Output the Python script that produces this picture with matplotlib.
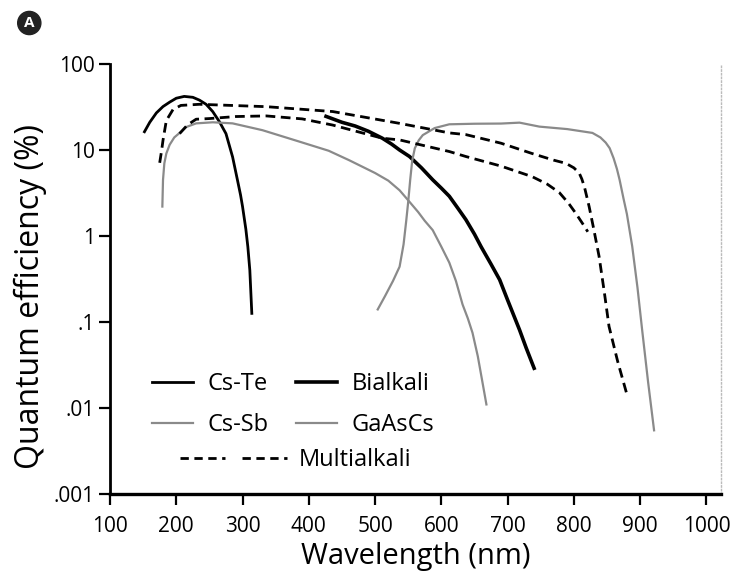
#!/usr/bin/env python3
"""Quantum efficiency of common photocathode materials."""

import matplotlib
matplotlib.use("Agg")
import matplotlib.pyplot as plt
from matplotlib.lines import Line2D
from matplotlib.legend_handler import HandlerTuple

plt.rcParams["font.family"] = ["Open Sans", "DejaVu Sans"]

# values (wavelength nm, QE %)
cs_te_wl = [152, 160, 170, 180, 190, 200, 212, 225, 235, 245, 255, 265, 275, 285, 292, 297, 300, 305, 308, 311, 314]
cs_te_qe = [16.3, 21, 27, 32, 36, 40, 42, 41, 38, 34, 28, 21.4, 15.5, 8.3, 4.6, 3.0, 2.2, 1.2, 0.75, 0.4, 0.126]

cs_sb_wl = [179, 180, 182, 185, 190, 197, 205, 215, 230, 255, 285, 330, 386, 430, 461, 500, 520, 537, 550, 565, 575, 587, 600, 612, 622, 632, 640, 647, 655, 662, 668]
cs_sb_qe = [2.2, 4.5, 7.0, 9.1, 11.5, 14, 15.8, 18.5, 20.4, 21, 20.4, 17, 12.5, 9.8, 7.6, 5.4, 4.4, 3.4, 2.6, 1.9, 1.5, 1.17, 0.75, 0.49, 0.3, 0.16, 0.11, 0.075, 0.04, 0.02, 0.011]

bialkali_wl = [426, 450, 470, 490, 511, 525, 537, 552, 570, 587, 600, 612, 625, 637, 650, 660, 675, 688, 700, 718, 728, 740]
bialkali_qe = [24.6, 21, 19, 16.5, 13.7, 11.7, 10, 8.4, 6.2, 4.5, 3.6, 2.9, 2.1, 1.55, 1.05, 0.75, 0.47, 0.31, 0.18, 0.081, 0.05, 0.029]

gaascs_wl = [504, 515, 527, 537, 543, 547, 550, 553, 556, 560, 566, 572, 590, 612, 650, 690, 718, 748, 790, 828, 840, 848, 854, 860, 865, 869, 875, 880, 888, 896, 903, 912, 921]
gaascs_qe = [0.14, 0.2, 0.3, 0.44, 0.8, 1.5, 2.5, 4.5, 7.5, 10.5, 13, 14.9, 18, 19.9, 20.2, 20.3, 20.8, 18.7, 17.5, 15.8, 14, 12.2, 10.5, 8, 6, 4.5, 2.7, 1.8, 0.76, 0.25, 0.081, 0.02, 0.0055]

multi_hi_wl = [175, 178, 180, 185, 195, 207, 235, 336, 436, 537, 612, 637, 690, 737, 770, 788, 800, 808, 812, 816, 823, 830, 838, 846, 853, 866, 881]
multi_hi_qe = [7.1, 10, 13, 22, 29.5, 33, 34, 31.9, 28, 20.4, 15.8, 15.1, 12, 9.1, 7.6, 7.0, 6.2, 5.4, 4.6, 3.7, 2.2, 1.2, 0.58, 0.22, 0.089, 0.035, 0.0135]

multi_lo_wl = [205, 217, 230, 250, 290, 336, 390, 436, 511, 537, 612, 637, 690, 737, 760, 778, 792, 803, 813, 821]
multi_lo_qe = [15.5, 19.6, 22.8, 23.2, 24.5, 24.9, 23, 19.5, 13.7, 13.1, 9.6, 8.4, 6.5, 4.9, 4.0, 3.2, 2.4, 1.83, 1.4, 1.12]

x_ticks = [100, 200, 300, 400, 500, 600, 700, 800, 900, 1000]
y_ticks = [0.001, 0.01, 0.1, 1, 10, 100]
y_tick_labels = [".001", ".01", ".1", "1", "10", "100"]

GRAY = "#8a8a8a"

fig = plt.figure(figsize=(7.32, 5.75), dpi=100)
ax = fig.add_axes([110 / 732, 1 - 494 / 575, 611 / 732, 430 / 575])

dash = (3.5, 2.0)
h_te, = ax.plot(cs_te_wl, cs_te_qe, color="black", lw=2.0, label="Cs-Te")
h_sb, = ax.plot(cs_sb_wl, cs_sb_qe, color=GRAY, lw=1.6, label="Cs-Sb")
h_bi, = ax.plot(bialkali_wl, bialkali_qe, color="black", lw=2.6, label="Bialkali")
h_ga, = ax.plot(gaascs_wl, gaascs_qe, color=GRAY, lw=1.6, label="GaAsCs")
ax.plot(multi_hi_wl, multi_hi_qe, color="black", lw=2.0, ls=(0, dash))
ax.plot(multi_lo_wl, multi_lo_qe, color="black", lw=2.0, ls=(0, dash))

ax.set_yscale("log")
ax.set_xlim(100, 1022)
ax.set_ylim(0.001, 100)
ax.set_xticks(x_ticks)
ax.set_yticks(y_ticks)
ax.set_yticklabels(y_tick_labels)
ax.minorticks_off()
ax.tick_params(direction="out", length=8, width=1.6, labelsize=15)
ax.tick_params(axis="x", pad=8)
ax.tick_params(axis="y", pad=3)

ax.spines["top"].set_visible(False)
ax.spines["left"].set_linewidth(2.0)
ax.spines["bottom"].set_linewidth(2.4)
ax.spines["right"].set_color("#bbbbbb")
ax.spines["right"].set_linewidth(1.0)
ax.spines["right"].set_linestyle(":")

ax.set_xlabel("Wavelength (nm)", fontsize=21)
ax.set_ylabel("Quantum efficiency (%)", fontsize=23)
ax.xaxis.set_label_coords(0.5, -0.112)
ax.yaxis.set_label_coords(-0.103, 0.46)

leg1 = ax.legend(handles=[h_te, h_sb, h_bi, h_ga], ncol=2, loc="upper left",
                 bbox_to_anchor=(0.069, 0.283), frameon=False, fontsize=17,
                 handlelength=1.75, handletextpad=0.6, columnspacing=1.15,
                 labelspacing=0.72, borderaxespad=0, borderpad=0)
ax.add_artist(leg1)

# two short dashed samples for the multialkali entry
leg_dash_a = Line2D([], [], color="black", lw=2.0, ls=(0, (3.0, 2.0)))
leg_dash_b = Line2D([], [], color="black", lw=2.0, ls=(0, (3.0, 2.0)))
ax.legend(handles=[(leg_dash_a, leg_dash_b)], labels=["Multialkali"], loc="upper left",
          bbox_to_anchor=(0.1146, 0.107), frameon=False, fontsize=17,
          handler_map={tuple: HandlerTuple(ndivide=None, pad=0.7)},
          handlelength=4.55, handletextpad=0.47, borderaxespad=0, borderpad=0)

fig.text(0.04, 1 - 23 / 575, "A", ha="center", va="center", color="white",
         fontsize=11, fontweight="bold",
         bbox=dict(boxstyle="circle,pad=0.3", fc="#222222", ec="#222222"))

fig.savefig("out.png", dpi=100)
